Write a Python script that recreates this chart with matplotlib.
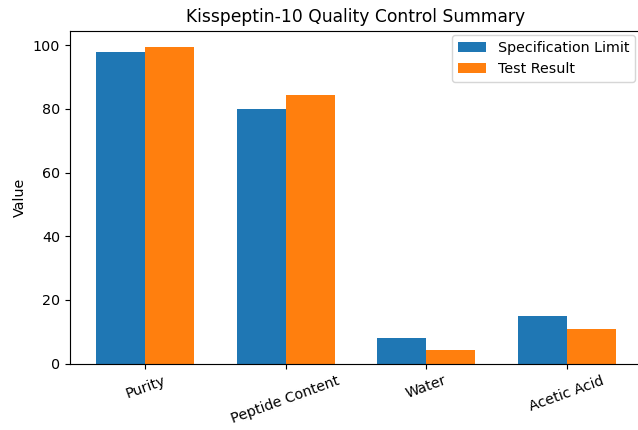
import matplotlib
matplotlib.use("Agg")
import matplotlib.pyplot as plt
import numpy as np

categories = ["Purity", "Peptide Content", "Water", "Acetic Acid"]
spec_limit = [98, 80, 8, 15]
test_result = [99.5, 84.4, 4.2, 10.8]

DPI = 103
fig = plt.figure(figsize=(638/DPI, 430/DPI), dpi=DPI)
ax = fig.add_axes([70/638, 1-363.5/430, 572/638, (363.5-31)/430])
x = np.arange(len(categories))
w = 0.35
ax.bar(x - w/2, spec_limit, w, label="Specification Limit", color="#1f77b4")
ax.bar(x + w/2, test_result, w, label="Test Result", color="#ff7f0e")
ax.set_xticks(x)
ax.set_xticklabels(categories, rotation=20)
ax.set_ylabel("Value")
ax.set_title("Kisspeptin-10 Quality Control Summary")
ax.legend(loc="upper right", bbox_to_anchor=(1.0, 1.008))
fig.savefig("out.png", dpi=DPI)
